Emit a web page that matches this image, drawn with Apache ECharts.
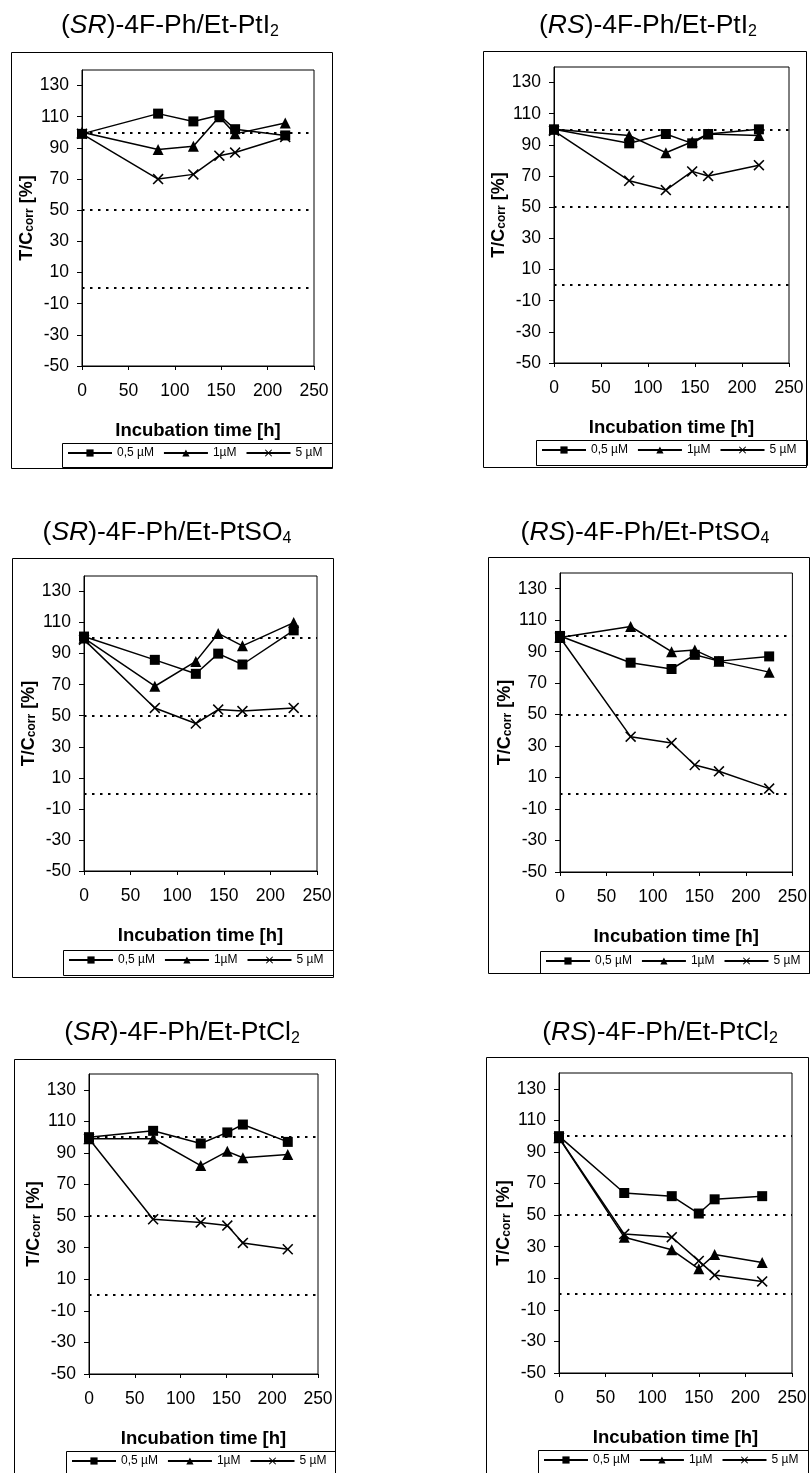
<!DOCTYPE html>
<html>
<head>
<meta charset="utf-8">
<script src="https://cdn.jsdelivr.net/npm/echarts@6/dist/echarts.min.js"></script>
<style>
html,body{margin:0;padding:0;background:#fff;}
#chart{width:810px;height:1473px;}
</style>
</head>
<body>
<div id="chart"></div>
<script>
// ---------- DATA ----------
const seriesNames = ['0,5 µM', '1µM', '5 µM'];
const refLines = [100, 50, 0];
const xTicks = [0, 50, 100, 150, 200, 250];
const yTicks = [-50, -30, -10, 10, 30, 50, 70, 90, 110, 130];

const titleSR_PtI2 = ['SR', 'PtI', '2'];
const timeSR_PtI2 = [0, 82, 120, 148, 165, 219];
const sr_PtI2_05 = [99, 112, 107, 111, 102, 98];
const sr_PtI2_1 = [100, 89, 91, 110, 99, 106];
const sr_PtI2_5 = [99, 70, 73, 85, 87, 97];

const titleRS_PtI2 = ['RS', 'PtI', '2'];
const timeRS_PtI2 = [0, 80, 119, 147, 164, 218];
const rs_PtI2_05 = [100, 91, 97, 91, 97, 100];
const rs_PtI2_1 = [100, 96, 85, 92, 97, 96];
const rs_PtI2_5 = [99, 67, 61, 73, 70, 77];

const titleSR_PtSO4 = ['SR', 'PtSO', '4'];
const timeSR_PtSO4 = [0, 76, 120, 144, 170, 225];
const sr_PtSO4_05 = [101, 86, 77, 90, 83, 105];
const sr_PtSO4_1 = [100, 69, 85, 103, 95, 110];
const sr_PtSO4_5 = [99, 55, 45, 54, 53, 55];

const titleRS_PtSO4 = ['RS', 'PtSO', '4'];
const timeRS_PtSO4 = [0, 76, 120, 145, 171, 225];
const rs_PtSO4_05 = [100, 83, 79, 88, 84, 87];
const rs_PtSO4_1 = [99, 106, 90, 91, 84, 77];
const rs_PtSO4_5 = [99, 36, 32, 18, 14, 3];

const titleSR_PtCl2 = ['SR', 'PtCl', '2'];
const timeSR_PtCl2 = [0, 70, 122, 151, 168, 217];
const sr_PtCl2_05 = [100, 104, 96, 103, 108, 97];
const sr_PtCl2_1 = [99, 99, 82, 91, 87, 89];
const sr_PtCl2_5 = [99, 48, 46, 44, 33, 29];

const titleRS_PtCl2 = ['RS', 'PtCl', '2'];
const timeRS_PtCl2 = [0, 70, 121, 150, 167, 218];
const rs_PtCl2_05 = [100, 64, 62, 51, 60, 62];
const rs_PtCl2_1 = [99, 36, 28, 16, 25, 20];
const rs_PtCl2_5 = [99, 38, 36, 21, 12, 8];

// ---------- LAYOUT (positions only) ----------
const panels = [
  {title: titleSR_PtI2, t: timeSR_PtI2, s: [sr_PtI2_05, sr_PtI2_1, sr_PtI2_5],
   grid: [82, 70, 232, 296], tc: [170, 26], box: [11, 52, 321, 416], lg: [62, 443, 270, 24]},
  {title: titleRS_PtI2, t: timeRS_PtI2, s: [rs_PtI2_05, rs_PtI2_1, rs_PtI2_5],
   grid: [554, 67, 235, 296], tc: [648, 26], box: [483, 51, 323, 416], lg: [536, 440, 271, 25]},
  {title: titleSR_PtSO4, t: timeSR_PtSO4, s: [sr_PtSO4_05, sr_PtSO4_1, sr_PtSO4_5],
   grid: [84, 576, 233, 295], tc: [167, 533], box: [12, 558, 321, 419], lg: [63, 950, 270, 25]},
  {title: titleRS_PtSO4, t: timeRS_PtSO4, s: [rs_PtSO4_05, rs_PtSO4_1, rs_PtSO4_5],
   grid: [560, 573, 233, 299], tc: [645, 533], box: [488, 557, 321, 416], lg: [540, 951, 269, 22]},
  {title: titleSR_PtCl2, t: timeSR_PtCl2, s: [sr_PtCl2_05, sr_PtCl2_1, sr_PtCl2_5],
   grid: [89, 1074, 229, 300], tc: [182, 1033], box: [14, 1059, 321, 425], lg: [66, 1451, 269, 30]},
  {title: titleRS_PtCl2, t: timeRS_PtCl2, s: [rs_PtCl2_05, rs_PtCl2_1, rs_PtCl2_5],
   grid: [559, 1073, 233, 300], tc: [660, 1033], box: [486, 1057, 322, 425], lg: [538, 1450, 270, 30]}
];

const FONT = 'Arial, "Liberation Sans", Helvetica, sans-serif';
const xPath = 'path://M0,1L1,0L5,4L9,0L10,1L6,5L10,9L9,10L5,6L1,10L0,9L4,5Z';
const symbols = ['rect', 'triangle', xPath];
const symbolSizes = [10, 11, 11];

const option = {
  animation: false,
  backgroundColor: '#fff',
  textStyle: {fontFamily: FONT, color: '#000'},
  grid: [], xAxis: [], yAxis: [], series: [], legend: [], graphic: []
};

panels.forEach((p, i) => {
  option.grid.push({left: p.grid[0], top: p.grid[1], width: p.grid[2], height: p.grid[3],
    show: true, borderColor: '#000', borderWidth: 1, backgroundColor: 'transparent'});
  option.xAxis.push({
    gridIndex: i, type: 'value', min: 0, max: 250, interval: 50,
    axisLine: {onZero: false, lineStyle: {color: '#000', width: 1}},
    axisTick: {length: 4, lineStyle: {color: '#000'}, customValues: xTicks},
    axisLabel: {color: '#000', fontSize: 17.5, margin: 16, fontFamily: FONT, customValues: xTicks},
    splitLine: {show: false},
    name: 'Incubation time [h]', nameLocation: 'middle', nameGap: 55,
    nameTextStyle: {fontSize: 18.5, fontWeight: 'bold', color: '#000', fontFamily: FONT}
  });
  option.yAxis.push({
    gridIndex: i, type: 'value', min: -50, max: 140, interval: 20,
    axisLine: {show: true, onZero: false, lineStyle: {color: '#000', width: 1}},
    axisTick: {show: true, length: 5, lineStyle: {color: '#000'}, customValues: yTicks},
    axisLabel: {color: '#000', fontSize: 17.5, margin: 13, fontFamily: FONT, customValues: yTicks},
    splitLine: {show: false},
    name: '{b|T/C}{s|corr}{b| [%]}', nameLocation: 'middle', nameRotate: 90, nameGap: 44,
    nameTextStyle: {color: '#000', rich: {
      b: {fontSize: 18, fontWeight: 'bold', fontFamily: FONT, color: '#000'},
      s: {fontSize: 12, fontWeight: 'bold', fontFamily: FONT, color: '#000', verticalAlign: 'bottom', lineHeight: 8}
    }}
  });
  p.s.forEach((vals, k) => {
    const ser = {
      type: 'line', name: seriesNames[k], xAxisIndex: i, yAxisIndex: i,
      data: p.t.map((t, j) => [t, vals[j]]),
      symbol: symbols[k], symbolSize: symbolSizes[k],
      itemStyle: {color: '#000'},
      lineStyle: {color: '#000', width: 1.5},
      z: 3
    };
    if (k === 0) {
      ser.markLine = {
        silent: true, symbol: ['none', 'none'], label: {show: false},
        lineStyle: {color: '#000', type: [2.5, 5.5], width: 2.2},
        emphasis: {disabled: true},
        data: refLines.map(v => ({yAxis: v}))
      };
    }
    option.series.push(ser);
  });
  option.legend.push({
    data: seriesNames, selectedMode: false,
    left: p.lg[0] + 5, top: p.lg[1] + 4, padding: 0,
    itemWidth: 44, itemHeight: 9, itemGap: 9,
    textStyle: {fontSize: 12, color: '#000', fontFamily: FONT}
  });
  option.graphic.push({
    type: 'rect', silent: true,
    shape: {x: p.box[0] + 0.5, y: p.box[1] + 0.5, width: p.box[2], height: p.box[3]},
    style: {fill: 'none', stroke: '#000', lineWidth: 1}
  });
  option.graphic.push({
    type: 'rect', silent: true,
    shape: {x: p.lg[0] + 0.5, y: p.lg[1] + 0.5, width: p.lg[2], height: p.lg[3]},
    style: {fill: 'none', stroke: '#000', lineWidth: 1}
  });
  option.graphic.push({
    type: 'text', silent: true, x: p.tc[0], y: p.tc[1],
    style: {
      text: '{n|(}{i|' + p.title[0] + '}{n|)-4F-Ph/Et-' + p.title[1] + '}{s|' + p.title[2] + '}',
      align: 'center', verticalAlign: 'middle', fill: '#000',
      fontSize: 26.5, fontFamily: FONT,
      rich: {
        n: {fontSize: 26.5, fontFamily: FONT, fill: '#000', color: '#000'},
        i: {fontSize: 26.5, fontFamily: FONT, fontStyle: 'italic', fill: '#000', color: '#000'},
        s: {fontSize: 16, fontFamily: FONT, fill: '#000', color: '#000', verticalAlign: 'bottom', lineHeight: 13}
      }
    }
  });
});

const chart = echarts.init(document.getElementById('chart'), null, {renderer: 'canvas'});
chart.setOption(option);
</script>
</body>
</html>
